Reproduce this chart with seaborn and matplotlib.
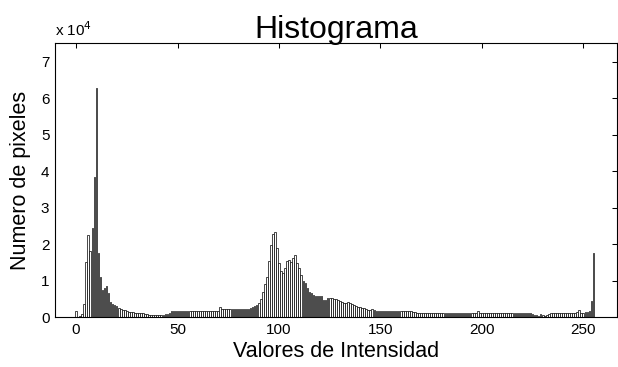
import matplotlib
matplotlib.use("Agg")
import matplotlib.pyplot as plt
import seaborn as sns
import numpy as np
import pandas as pd
from matplotlib.ticker import FuncFormatter

# ---- data ----
intensity = list(range(256))
counts = [
    1700, 100, 200, 800, 3500, 15000, 22500, 18000, 24500, 38500, 62700, 17500, 11000, 7500, 8000, 8500,
    6500, 4200, 3600, 3300, 3000, 2400, 2100, 2000, 1900, 1600, 1500, 1400, 1300, 1200, 1200, 1150,
    1100, 1000, 800, 750, 700, 700, 700, 650, 700, 700, 700, 700, 750, 800, 1200, 1600,
    1700, 1700, 1650, 1650, 1650, 1650, 1650, 1650, 1650, 1650, 1650, 1650, 1650, 1650, 1650, 1650,
    1650, 1650, 1650, 1650, 1650, 1700, 1700, 2700, 2100, 2100, 2100, 2100, 2100, 2100, 2100, 2100,
    2100, 2100, 2100, 2100, 2200, 2200, 2600, 2800, 3000, 3300, 3800, 5000, 7000, 9000, 11000, 15500,
    19800, 22800, 23200, 19000, 14700, 12500, 12000, 13400, 15500, 15700, 15200, 16200, 17000, 14800, 13500, 11500,
    10000, 9300, 8000, 7000, 6500, 6000, 5800, 5900, 5700, 5700, 4700, 4600, 5100, 5200, 5100, 5000,
    4900, 4600, 4400, 4000, 3800, 3900, 4000, 3900, 3500, 3300, 3000, 2800, 2800, 2600, 2400, 2200,
    1900, 2000, 2100, 1900, 1800, 1700, 1700, 1700, 1700, 1700, 1700, 1700, 1700, 1650, 1650, 1650,
    1650, 1600, 1600, 1600, 1600, 1600, 1500, 1400, 1250, 1250, 1200, 1200, 1200, 1200, 1200, 1200,
    1200, 1200, 1200, 1200, 1200, 1200, 1200, 1200, 1200, 1200, 1200, 1200, 1200, 1200, 1200, 1200,
    1200, 1200, 1200, 1200, 1200, 1200, 1800, 1200, 1150, 1150, 1150, 1150, 1150, 1150, 1150, 1150,
    1150, 1150, 1150, 1150, 1150, 1150, 1150, 1150, 1150, 1150, 1150, 1150, 1150, 1150, 1150, 1150,
    1100, 800, 700, 600, 400, 800, 600, 300, 700, 800, 1100, 1100, 1100, 1100, 1100, 1100,
    1100, 1100, 1100, 1100, 1100, 1100, 1200, 1300, 2000, 1200, 1200, 1300, 1500, 1800, 4500, 17500,
]
x_ticks = [0, 50, 100, 150, 200, 250]
y_ticks = [0, 10000, 20000, 30000, 40000, 50000, 60000, 70000]

title = "Histograma"
xlabel = "Valores de Intensidad"
ylabel = "Numero de pixeles"

# ---- style ----
sns.set_style("white")
plt.rcParams["font.family"] = ["Liberation Sans", "DejaVu Sans"]
plt.rcParams["text.color"] = "black"
plt.rcParams["axes.labelcolor"] = "black"

df = pd.DataFrame({"intensity": intensity, "count": counts})

fig = plt.figure(figsize=(6.18, 3.67), dpi=100)
ax = fig.add_axes([0.089, 0.136, 0.909, 0.746])

sns.barplot(data=df, x="intensity", y="count", native_scale=True,
            color="white", saturation=1, edgecolor="black", linewidth=0.5,
            width=0.8, ax=ax)

ax.set_xlim(-10.4, 266.5)
ax.set_ylim(0, 75000)
ax.set_xticks(x_ticks)
ax.set_yticks(y_ticks)
ax.yaxis.set_major_formatter(FuncFormatter(lambda v, p: f"{v/1e4:g}"))
ax.xaxis.set_major_formatter(FuncFormatter(lambda v, p: f"{v:g}"))

ax.tick_params(direction="in", length=3.5, width=0.75, top=True, right=True,
               labelsize=11, colors="black", labelcolor="black", pad=4)
for s in ax.spines.values():
    s.set_linewidth(0.8)
    s.set_color("black")
    s.set_visible(True)

ax.set_title(title, fontsize=23, pad=4, color="black")
ax.set_xlabel(xlabel, fontsize=15.5, labelpad=3, color="black")
ax.set_ylabel(ylabel, fontsize=15.5, labelpad=7, color="black")
ax.text(0.0, 1.015, "x 10$^{4}$", transform=ax.transAxes, fontsize=11,
        ha="left", va="bottom", color="black")

fig.savefig("out.png", dpi=100)
